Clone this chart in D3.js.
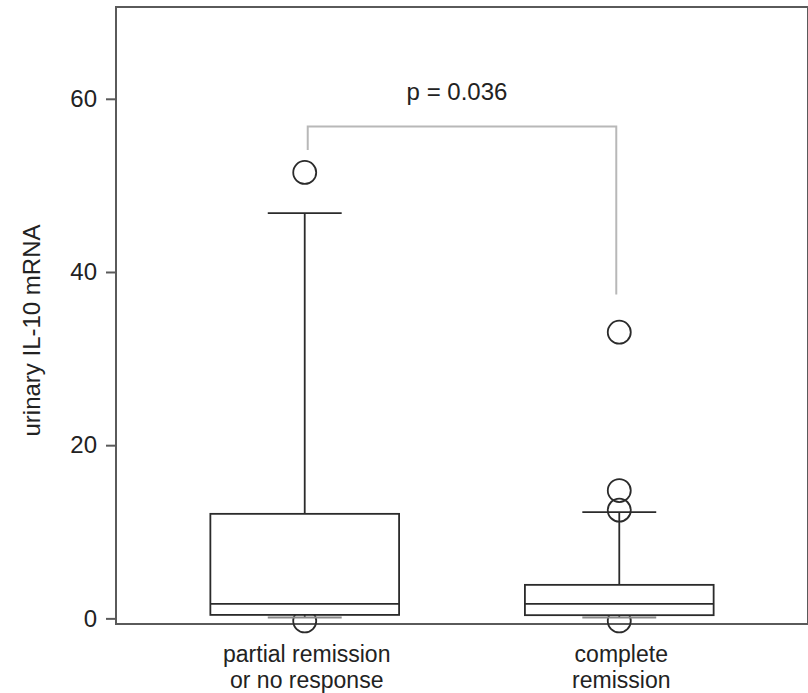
<!DOCTYPE html>
<html>
<head>
<meta charset="utf-8">
<script src="https://cdn.jsdelivr.net/npm/d3@7"></script>
<style>
  body { margin: 0; background: #fff; }
  svg { display: block; font-family: "Liberation Sans", Arial, sans-serif; }
</style>
</head>
<body>
<svg id="chart"></svg>
<script>
// Box plot summary values
const categories = ["partial remission\nor no response", "complete\nremission"];
const q1 = [0.4, 0.37];
const median = [1.67, 1.67];
const q3 = [12.07, 3.87];
const whiskerHigh = [46.8, 12.26];
const whiskerLow = [0.1, 0.1];
const outliers = [[51.5, -0.3], [33.05, 14.76, 12.5, -0.3]];
const yTicks = [0, 20, 40, 60];
const bracket = { top: 56.8, ends: [54.1, 37.4], label: "p = 0.036" };

const W = 808, H = 693;
const margin = { top: 7, right: 0, bottom: 69, left: 116 };

const svg = d3.select("#chart").attr("width", W).attr("height", H);

const x = d3.scalePoint()
  .domain(categories)
  .range([margin.left, W - margin.right])
  .padding(0.6);

const y = d3.scaleLinear()
  .domain([-0.65, 70.6])
  .range([H - margin.bottom, margin.top]);

const step = x.step();
const boxW = step * 0.6;
const capW = step * 0.235;
const ink = "#2b2b2b";
const fs = 24;

// frame
svg.append("rect")
  .attr("x", margin.left)
  .attr("y", margin.top)
  .attr("width", W - margin.right - margin.left)
  .attr("height", H - margin.bottom - margin.top)
  .attr("fill", "none")
  .attr("stroke", "#5a5a5a")
  .attr("stroke-width", 2);

// y axis
const yAxis = svg.append("g")
  .attr("transform", `translate(${margin.left},0)`)
  .call(d3.axisLeft(y).tickValues(yTicks).tickSize(10).tickPadding(9));
yAxis.select(".domain").remove();
yAxis.selectAll(".tick line").attr("stroke", "#5a5a5a").attr("stroke-width", 2);
yAxis.selectAll(".tick text")
  .attr("fill", "#222")
  .attr("font-size", fs)
  .attr("font-family", "Liberation Sans, Arial, sans-serif");

svg.append("text")
  .attr("transform", `translate(40,${(margin.top + H - margin.bottom) / 2 + 15}) rotate(-90)`)
  .attr("text-anchor", "middle")
  .attr("fill", "#222")
  .attr("font-size", fs)
  .text("urinary IL-10 mRNA");

// category labels, two lines each
categories.forEach((c) => {
  c.split("\n").forEach((line, i) => {
    svg.append("text")
      .attr("x", x(c) + 2)
      .attr("y", 662 + i * 26)
      .attr("text-anchor", "middle")
      .attr("fill", "#222")
      .attr("font-size", 23)
      .text(line);
  });
});

// outliers first so the box fill hides the part of the lowest circle
const g = svg.append("g");
categories.forEach((c, i) => {
  g.selectAll(null)
    .data(outliers[i])
    .join("circle")
    .attr("cx", x(c))
    .attr("cy", (d) => y(d))
    .attr("r", 11.5)
    .attr("fill", "none")
    .attr("stroke", ink)
    .attr("stroke-width", 1.8);
});

categories.forEach((c, i) => {
  const cx = x(c);
  // whiskers
  g.append("line")
    .attr("x1", cx).attr("x2", cx)
    .attr("y1", y(q3[i])).attr("y2", y(whiskerHigh[i]))
    .attr("stroke", ink).attr("stroke-width", 1.8);
  g.append("line")
    .attr("x1", cx).attr("x2", cx)
    .attr("y1", y(q1[i])).attr("y2", y(whiskerLow[i]))
    .attr("stroke", ink).attr("stroke-width", 1.8);
  g.append("line")
    .attr("x1", cx - capW / 2).attr("x2", cx + capW / 2)
    .attr("y1", y(whiskerHigh[i])).attr("y2", y(whiskerHigh[i]))
    .attr("stroke", ink).attr("stroke-width", 1.8);
  g.append("line")
    .attr("x1", cx - capW / 2).attr("x2", cx + capW / 2)
    .attr("y1", y(whiskerLow[i])).attr("y2", y(whiskerLow[i]))
    .attr("stroke", "#8a8a8a").attr("stroke-width", 2.2);
  // box
  g.append("rect")
    .attr("x", cx - boxW / 2)
    .attr("y", y(q3[i]))
    .attr("width", boxW)
    .attr("height", y(q1[i]) - y(q3[i]))
    .attr("fill", "#fff")
    .attr("stroke", ink)
    .attr("stroke-width", 1.8);
  g.append("line")
    .attr("x1", cx - boxW / 2).attr("x2", cx + boxW / 2)
    .attr("y1", y(median[i])).attr("y2", y(median[i]))
    .attr("stroke", ink).attr("stroke-width", 1.8);
});

// significance bracket
const bx = categories.map((c) => x(c));
svg.append("path")
  .attr("d", `M${bx[0] + 3},${y(bracket.ends[0])}V${y(bracket.top)}H${bx[1] - 3}V${y(bracket.ends[1])}`)
  .attr("fill", "none")
  .attr("stroke", "#b8b8b8")
  .attr("stroke-width", 2);

svg.append("text")
  .attr("x", (bx[0] + bx[1]) / 2 - 5)
  .attr("y", y(bracket.top) - 27)
  .attr("text-anchor", "middle")
  .attr("fill", "#222")
  .attr("font-size", fs)
  .text(bracket.label);
</script>
</body>
</html>
